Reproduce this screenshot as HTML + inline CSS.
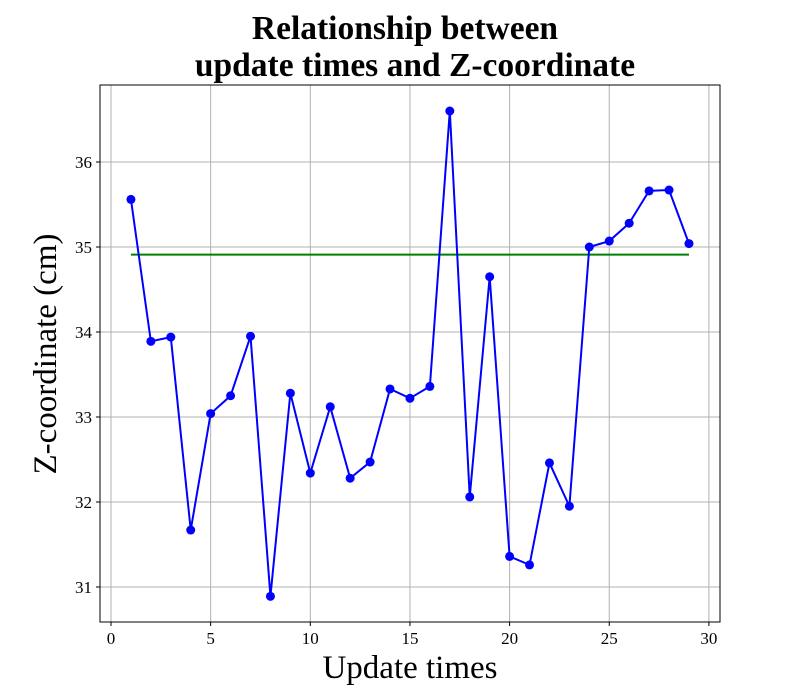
<!DOCTYPE html>
<html><head><meta charset="utf-8"><style>
body{margin:0;background:#fff;}
svg{display:block;font-family:"Liberation Serif",serif;}
</style></head><body>
<svg id="chart" width="800" height="700">
<text x="405" y="39" text-anchor="middle" font-size="33.5" font-weight="bold">Relationship between</text>
<text x="415" y="76" text-anchor="middle" font-size="33.5" font-weight="bold">update times and Z-coordinate</text>
<g id="grid"></g>
<g id="marks"></g>
<rect x="100" y="85" width="620" height="537" fill="none" stroke="#000" stroke-width="1"/>
<g id="ticks"></g>
<text x="410" y="678" text-anchor="middle" font-size="33">Update times</text>
<text transform="translate(56,354) rotate(-90)" text-anchor="middle" font-size="33">Z-coordinate (cm)</text>
</svg>
<script>
const xs=[1,2,3,4,5,6,7,8,9,10,11,12,13,14,15,16,17,18,19,20,21,22,23,24,25,26,27,28,29];
const zs=[35.56,33.89,33.94,31.67,33.04,33.25,33.95,30.89,33.28,32.34,33.12,32.28,32.47,33.33,33.22,33.36,36.6,32.06,34.65,31.36,31.26,32.46,31.95,35.0,35.07,35.28,35.66,35.67,35.04];
const meanValue=34.91;
const xTicks=[0,5,10,15,20,25,30];
const yTicks=[31,32,33,34,35,36];
const NS="http://www.w3.org/2000/svg";
const X=v=>111+v*19.93;
const Y=v=>587-(v-31)*85;
const grid=document.getElementById('grid'),ticks=document.getElementById('ticks'),marks=document.getElementById('marks');
function mk(tag,attrs,parent){const e=document.createElementNS(NS,tag);for(const k in attrs)e.setAttribute(k,attrs[k]);parent.appendChild(e);return e;}
xTicks.forEach(t=>{
 const g=mk('line',{x1:X(t),x2:X(t),y1:85,y2:622,stroke:'#b0b0b0','stroke-width':1},grid);
 
 
 mk('line',{x1:X(t),x2:X(t),y1:622,y2:626,stroke:'#000'},ticks);
 const l=mk('text',{x:X(t),y:644,'text-anchor':'middle','font-size':17},ticks);
 l.textContent=t;
 
 
});
yTicks.forEach(t=>{
 const g=mk('line',{x1:100,x2:720,y1:Y(t),y2:Y(t),stroke:'#b0b0b0','stroke-width':1},grid);
 
 
 mk('line',{x1:96,x2:100,y1:Y(t),y2:Y(t),stroke:'#000'},ticks);
 const l=mk('text',{x:92,y:Y(t)+6,'text-anchor':'end','font-size':17},ticks);
 l.textContent=t;
 
 
});
const mean=mk('line',{x1:X(xs[0]),x2:X(xs[xs.length-1]),y1:Y(meanValue),y2:Y(meanValue),stroke:'green','stroke-width':2},marks);


const pl=mk('polyline',{points:xs.map((x,i)=>X(x)+','+Y(zs[i])).join(' '),fill:'none',stroke:'blue','stroke-width':2},marks);


xs.forEach((x,i)=>{
 const c=mk('circle',{cx:X(x),cy:Y(zs[i]),r:4.5,fill:'blue'},marks);
 
 
});
</script>
</body></html>
